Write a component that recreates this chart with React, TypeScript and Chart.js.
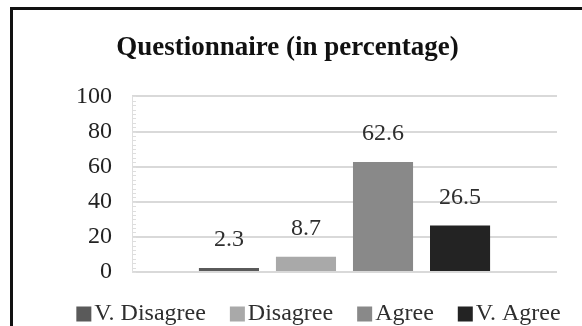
import React, { useEffect, useRef } from "react";
import { Chart, registerables } from "chart.js";

Chart.register(...registerables);

const TITLE = "Questionnaire (in percentage)";
const categories = [""];
const seriesNames = ["V. Disagree", "Disagree", "Agree", "V. Agree"];
const seriesValues = [2.3, 8.7, 62.6, 26.5];
const seriesColors = ["#5a5a5a", "#a9a9a9", "#898989", "#232323"];
const yTicks = [0, 20, 40, 60, 80, 100];

const SERIF = "'Liberation Serif', 'Times New Roman', serif";

const extrasPlugin = {
  id: "extras",
  beforeDatasetsDraw(chart: any) {
    const { ctx, chartArea } = chart;
    const y = chart.scales.y;
    ctx.save();
    ctx.strokeStyle = "#dedede";
    ctx.lineWidth = 1;
    ctx.beginPath();
    ctx.moveTo(chartArea.left + 0.5, chartArea.top);
    ctx.lineTo(chartArea.left + 0.5, chartArea.bottom);
    ctx.stroke();
    for (let v = 0; v <= 100; v += 2.5) {
      const py = Math.round(y.getPixelForValue(v)) + 0.5;
      ctx.beginPath();
      ctx.moveTo(chartArea.left, py);
      ctx.lineTo(chartArea.left + 4, py);
      ctx.stroke();
    }
    ctx.restore();
  },
  afterDatasetsDraw(chart: any) {
    const { ctx } = chart;
    ctx.save();
    ctx.font = `24px ${SERIF}`;
    ctx.fillStyle = "#2e2e2e";
    ctx.textAlign = "center";
    ctx.textBaseline = "middle";
    chart.data.datasets.forEach((ds: any, i: number) => {
      const meta = chart.getDatasetMeta(i);
      const el = meta.data[0];
      if (!el) return;
      ctx.fillText(String(ds.data[0]), el.x, el.y - 28);
    });
    ctx.restore();
  },
  afterDraw(chart: any) {
    const { ctx, chartArea } = chart;
    ctx.save();
    ctx.font = `24px ${SERIF}`;
    ctx.textBaseline = "middle";
    ctx.textAlign = "left";
    const box = 15;
    const gapBoxText = 3;
    const gapItems = 24;
    const items = chart.data.datasets.map((ds: any) => ({
      text: ds.label,
      color: ds.backgroundColor,
      w: box + gapBoxText + ctx.measureText(ds.label).width,
    }));
    const total = items.reduce((s: number, it: any) => s + it.w, 0) + gapItems * (items.length - 1);
    const center = (chartArea.left + chartArea.right) / 2 - 26;
    let x = center - total / 2;
    const yc = chartArea.bottom + 42;
    items.forEach((it: any) => {
      ctx.fillStyle = it.color;
      ctx.fillRect(x, yc - box / 2, box, box);
      ctx.fillStyle = "#2e2e2e";
      ctx.fillText(it.text, x + box + gapBoxText, yc);
      x += it.w + gapItems;
    });
    ctx.restore();
  },
};

export default function App() {
  const ref = useRef<HTMLCanvasElement | null>(null);
  useEffect(() => {
    if (!ref.current) return;
    const chart = new Chart(ref.current, {
      type: "bar",
      data: {
        labels: categories,
        datasets: seriesNames.map((name, i) => ({
          label: name,
          data: [seriesValues[i]],
          backgroundColor: seriesColors[i],
          borderWidth: 0,
          categoryPercentage: 0.725,
          barPercentage: 0.78,
        })),
      },
      options: {
        responsive: false,
        animation: false,
        layout: { padding: { left: 18, right: 25, top: 0, bottom: 54 } },
        plugins: {
          legend: { display: false },
          tooltip: { enabled: false },
          title: {
            display: true,
            text: TITLE,
            color: "#111111",
            font: { family: SERIF, size: 27, weight: "bold" },
            padding: { top: 32, bottom: 32 },
          },
        },
        scales: {
          x: { display: false },
          y: {
            min: 0,
            max: 100,
            afterBuildTicks: (scale: any) => {
              scale.ticks = yTicks.map((v) => ({ value: v }));
            },
            afterFit: (scale: any) => {
              scale.width = 114;
            },
            border: { display: false },
            grid: { color: "#d9d9d9", lineWidth: 2, drawTicks: false },
            ticks: {
              color: "#222222",
              padding: 20,
              font: { family: SERIF, size: 24 },
            },
          },
        },
      },
      plugins: [extrasPlugin],
    });
    return () => chart.destroy();
  }, []);
  return (
    <div style={{ position: "fixed", left: 0, top: 0, width: 582, height: 326, background: "#ffffff", overflow: "hidden" }}>
      <div
        style={{
          position: "absolute",
          left: 10,
          top: 7,
          width: 700,
          height: 500,
          border: "3px solid #111111",
          boxSizing: "border-box",
        }}
      />
      <canvas ref={ref} width={582} height={326} style={{ position: "absolute", left: 0, top: 0 }} />
    </div>
  );
}
